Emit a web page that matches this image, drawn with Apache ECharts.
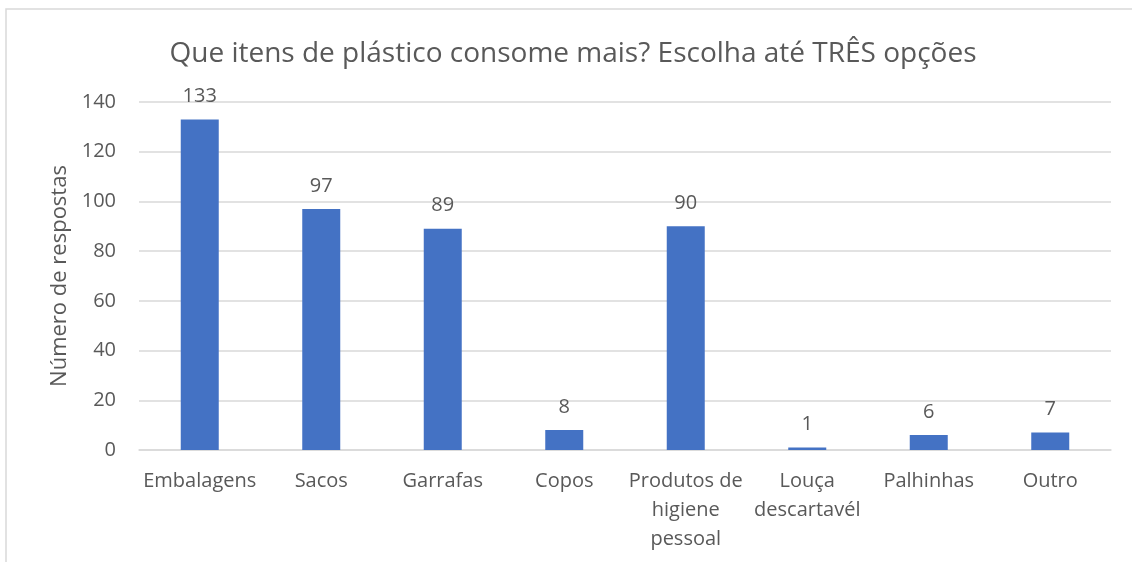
<!DOCTYPE html>
<html>
<head>
<meta charset="utf-8">
<script src="https://cdn.jsdelivr.net/npm/echarts@6/dist/echarts.min.js"></script>
<style>
  html, body { margin: 0; padding: 0; background: #fff; }
  #chart { width: 1132px; height: 562px; }
</style>
</head>
<body>
<div id="chart"></div>
<script>
// Survey answers: which plastic items are consumed most (up to three choices)
const chartTitle = 'Que itens de plástico consome mais? Escolha até TRÊS opções';
const axisTitle = 'Número de respostas';
const categories = [
  'Embalagens',
  'Sacos',
  'Garrafas',
  'Copos',
  'Produtos de\nhigiene\npessoal',
  'Louça\ndescartavél',
  'Palhinhas',
  'Outro'
];
const responses = [133, 97, 89, 8, 90, 1, 6, 7];
const yTicks = { min: 0, max: 140, interval: 20 };

const FONT = '"Open Sans", sans-serif';
const TEXT = '#595959';
const GRID = '#d9d9d9';

const chart = echarts.init(document.getElementById('chart'), null, { renderer: 'canvas' });
chart.setOption({
  animation: false,
  backgroundColor: '#ffffff',
  textStyle: { fontFamily: FONT, color: TEXT },
  graphic: [{
    type: 'rect',
    shape: { x: 6, y: 9, width: 1200, height: 700 },
    style: { fill: 'none', stroke: GRID, lineWidth: 1.5 },
    silent: true,
    z: -1
  }],
  title: {
    text: chartTitle,
    left: 568,
    top: 35,
    textAlign: 'center',
    textStyle: { fontFamily: FONT, fontSize: 28, fontWeight: 'normal', color: TEXT }
  },
  grid: { left: 139, right: 21, top: 102, bottom: 112 },
  xAxis: {
    type: 'category',
    data: categories,
    axisLine: { show: true, lineStyle: { color: GRID, width: 1.5 } },
    axisTick: { show: false },
    axisLabel: {
      interval: 0,
      margin: 17,
      fontFamily: FONT,
      fontSize: 20,
      lineHeight: 29,
      color: TEXT
    }
  },
  yAxis: {
    type: 'value',
    min: yTicks.min,
    max: yTicks.max,
    interval: yTicks.interval,
    name: axisTitle,
    nameLocation: 'middle',
    nameGap: 65,
    nameTextStyle: { fontFamily: FONT, fontSize: 22, color: TEXT },
    axisLine: { show: false },
    axisTick: { show: false },
    axisLabel: { margin: 23, fontFamily: FONT, fontSize: 20, color: TEXT },
    splitLine: { lineStyle: { color: GRID, width: 1.5 } }
  },
  series: [{
    type: 'bar',
    data: responses,
    barWidth: 38,
    itemStyle: { color: '#4472c4' },
    label: {
      show: true,
      position: 'top',
      distance: 13,
      fontFamily: FONT,
      fontSize: 20,
      color: TEXT
    }
  }]
});
</script>
</body>
</html>
